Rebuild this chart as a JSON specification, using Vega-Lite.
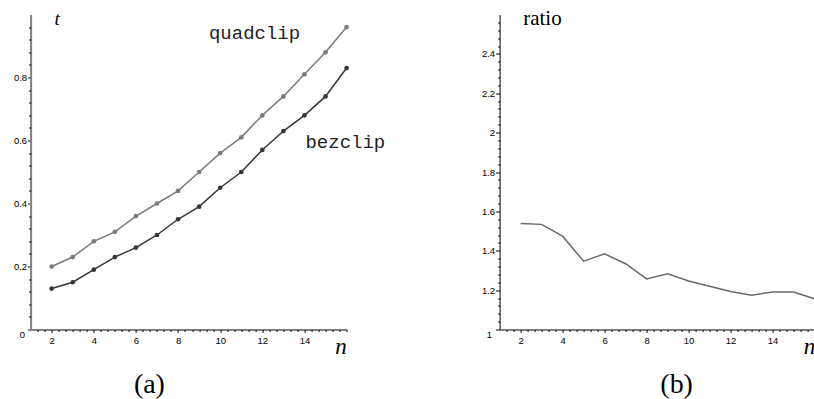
{
  "$schema": "https://vega.github.io/schema/vega-lite/v6.json",
  "autosize": {"type": "pad"},
  "padding": {"left": 12.6, "top": 7.5, "right": 0, "bottom": 0},
  "background": "white",
  "spacing": 153,
  "bounds": "flush",
  "config": {
    "view": {"stroke": null},
    "axis": {"grid": false, "title": null, "labelFont": "Liberation Sans", "labelFontSize": 9.5, "labelColor": "#000", "tickColor": "#000", "domainColor": "#000", "labelFlush": false, "labelOverlap": false}
  },
  "datasets": {
    "times": [
      {"n": 2, "series": "quadclip", "t": 0.20}, {"n": 3, "series": "quadclip", "t": 0.23}, {"n": 4, "series": "quadclip", "t": 0.28}, {"n": 5, "series": "quadclip", "t": 0.31}, {"n": 6, "series": "quadclip", "t": 0.36}, {"n": 7, "series": "quadclip", "t": 0.40}, {"n": 8, "series": "quadclip", "t": 0.44}, {"n": 9, "series": "quadclip", "t": 0.50}, {"n": 10, "series": "quadclip", "t": 0.56}, {"n": 11, "series": "quadclip", "t": 0.61}, {"n": 12, "series": "quadclip", "t": 0.68}, {"n": 13, "series": "quadclip", "t": 0.74}, {"n": 14, "series": "quadclip", "t": 0.81}, {"n": 15, "series": "quadclip", "t": 0.88}, {"n": 16, "series": "quadclip", "t": 0.96},
      {"n": 2, "series": "bezclip", "t": 0.13}, {"n": 3, "series": "bezclip", "t": 0.15}, {"n": 4, "series": "bezclip", "t": 0.19}, {"n": 5, "series": "bezclip", "t": 0.23}, {"n": 6, "series": "bezclip", "t": 0.26}, {"n": 7, "series": "bezclip", "t": 0.30}, {"n": 8, "series": "bezclip", "t": 0.35}, {"n": 9, "series": "bezclip", "t": 0.39}, {"n": 10, "series": "bezclip", "t": 0.45}, {"n": 11, "series": "bezclip", "t": 0.50}, {"n": 12, "series": "bezclip", "t": 0.57}, {"n": 13, "series": "bezclip", "t": 0.63}, {"n": 14, "series": "bezclip", "t": 0.68}, {"n": 15, "series": "bezclip", "t": 0.74}, {"n": 16, "series": "bezclip", "t": 0.83}
    ],
    "ratios": [
      {"n": 2, "ratio": 1.539}, {"n": 3, "ratio": 1.534}, {"n": 4, "ratio": 1.474}, {"n": 5, "ratio": 1.347}, {"n": 6, "ratio": 1.384}, {"n": 7, "ratio": 1.334}, {"n": 8, "ratio": 1.257}, {"n": 9, "ratio": 1.283}, {"n": 10, "ratio": 1.246}, {"n": 11, "ratio": 1.22}, {"n": 12, "ratio": 1.193}, {"n": 13, "ratio": 1.174}, {"n": 14, "ratio": 1.191}, {"n": 15, "ratio": 1.19}, {"n": 16, "ratio": 1.156}
    ]
  },
  "hconcat": [
    {
      "width": 316,
      "height": 315,
      "resolve": {"axis": {"x": "independent", "y": "independent"}},
      "layer": [
        {
          "data": {"name": "times"},
          "mark": {"type": "line", "strokeWidth": 1.5, "point": {"filled": true, "size": 22, "opacity": 1}},
          "encoding": {
            "x": {"field": "n", "type": "quantitative", "scale": {"domain": [1, 16], "nice": false, "zero": false},
                  "axis": {"orient": "bottom", "values": [2, 4, 6, 8, 10, 12, 14], "format": "d", "tickSize": 3, "labelPadding": 3, "domainColor": "#000", "domainWidth": 1}},
            "y": {"field": "t", "type": "quantitative", "scale": {"domain": [0, 1], "nice": false, "zero": false},
                  "axis": {"orient": "left", "values": [0, 0.2, 0.4, 0.6, 0.8], "format": "~g", "tickSize": 3, "labelPadding": {"condition": {"test": "datum.value === 0", "value": 3}, "value": 1}, "labelBaseline": {"condition": {"test": "datum.value === 0", "value": "top"}, "value": "middle"}, "domainColor": "#808080", "domainWidth": 2}},
            "color": {"field": "series", "type": "nominal", "scale": {"domain": ["quadclip", "bezclip"], "range": ["#7a7a7a", "#363636"]}, "legend": null}
          }
        },
        {
          "data": {"values": [{}]},
          "mark": {"type": "text", "font": "Liberation Mono", "fontSize": 19, "align": "center", "baseline": "alphabetic", "color": "#222", "text": "quadclip"},
          "encoding": {
            "x": {"datum": 11.63, "type": "quantitative", "axis": {"orient": "bottom", "values": [1.333, 1.667, 2.333, 2.667, 3, 3.333, 3.667, 4.333, 4.667, 5, 5.333, 5.667, 6.333, 6.667, 7, 7.333, 7.667, 8.333, 8.667, 9, 9.333, 9.667, 10.333, 10.667, 11, 11.333, 11.667, 12.333, 12.667, 13, 13.333, 13.667, 14.333, 14.667, 15, 15.333, 15.667, 16], "labels": false, "domain": false, "tickSize": 2}},
            "y": {"datum": 0.922, "type": "quantitative", "axis": {"orient": "left", "values": [0.04, 0.08, 0.12, 0.16, 0.24, 0.28, 0.32, 0.36, 0.44, 0.48, 0.52, 0.56, 0.64, 0.68, 0.72, 0.76, 0.84, 0.88, 0.92, 0.96], "labels": false, "domain": false, "tickSize": 2}}
          }
        },
        {
          "data": {"values": [{}]},
          "mark": {"type": "text", "font": "Liberation Mono", "fontSize": 19, "align": "center", "baseline": "alphabetic", "color": "#222", "text": "bezclip"},
          "encoding": {"x": {"datum": 15.94, "type": "quantitative", "axis": null}, "y": {"datum": 0.577, "type": "quantitative", "axis": null}}
        },
        {
          "data": {"values": [{}]},
          "mark": {"type": "text", "font": "Liberation Serif", "fontStyle": "italic", "fontSize": 19, "align": "center", "baseline": "alphabetic", "color": "#000", "text": "t"},
          "encoding": {"x": {"datum": 2.26, "type": "quantitative", "axis": null}, "y": {"datum": 0.966, "type": "quantitative", "axis": null}}
        },
        {
          "data": {"values": [{}]},
          "mark": {"type": "text", "font": "Liberation Serif", "fontStyle": "italic", "fontSize": 23, "align": "center", "baseline": "alphabetic", "color": "#000", "text": "n"},
          "encoding": {"x": {"datum": 15.74, "type": "quantitative", "axis": null}, "y": {"datum": -0.078, "type": "quantitative", "axis": null}}
        },
        {
          "data": {"values": [{}]},
          "mark": {"type": "text", "font": "Liberation Serif", "fontSize": 28, "align": "center", "baseline": "alphabetic", "color": "#000", "text": "(a)"},
          "encoding": {"x": {"datum": 6.64, "type": "quantitative", "axis": null}, "y": {"datum": -0.202, "type": "quantitative", "axis": null}}
        }
      ]
    },
    {
      "width": 315,
      "height": 315,
      "resolve": {"axis": {"x": "independent", "y": "independent"}},
      "layer": [
        {
          "data": {"name": "ratios"},
          "mark": {"type": "line", "strokeWidth": 1.5, "color": "#6a6a6a"},
          "encoding": {
            "x": {"field": "n", "type": "quantitative", "scale": {"domain": [1, 16], "nice": false, "zero": false},
                  "axis": {"orient": "bottom", "values": [2, 4, 6, 8, 10, 12, 14], "format": "d", "tickSize": 3, "labelPadding": 3}},
            "y": {"field": "ratio", "type": "quantitative", "scale": {"domain": [1, 2.6], "nice": false, "zero": false},
                  "axis": {"orient": "left", "values": [1, 1.2, 1.4, 1.6, 1.8, 2, 2.2, 2.4], "format": "~g", "tickSize": 4, "labelPadding": {"condition": {"test": "datum.value === 1", "value": 4}, "value": 1}, "labelBaseline": {"condition": {"test": "datum.value === 1", "value": "top"}, "value": "middle"}}}
          }
        },
        {
          "data": {"values": [{}]},
          "mark": {"type": "text", "font": "Liberation Serif", "fontSize": 21, "align": "center", "baseline": "alphabetic", "color": "#000", "text": "ratio"},
          "encoding": {
            "x": {"datum": 3.04, "type": "quantitative", "axis": {"orient": "bottom", "values": [1.333, 1.667, 2.333, 2.667, 3, 3.333, 3.667, 4.333, 4.667, 5, 5.333, 5.667, 6.333, 6.667, 7, 7.333, 7.667, 8.333, 8.667, 9, 9.333, 9.667, 10.333, 10.667, 11, 11.333, 11.667, 12.333, 12.667, 13, 13.333, 13.667, 14.333, 14.667, 15, 15.333, 15.667, 16], "labels": false, "domain": false, "tickSize": 2}},
            "y": {"datum": 2.547, "type": "quantitative", "axis": {"orient": "left", "values": [1.04, 1.08, 1.12, 1.16, 1.24, 1.28, 1.32, 1.36, 1.44, 1.48, 1.52, 1.56, 1.64, 1.68, 1.72, 1.76, 1.84, 1.88, 1.92, 1.96, 2.04, 2.08, 2.12, 2.16, 2.24, 2.28, 2.32, 2.36, 2.44, 2.48, 2.52, 2.56], "labels": false, "domain": false, "tickSize": 2}}
          }
        },
        {
          "data": {"values": [{}]},
          "mark": {"type": "text", "font": "Liberation Serif", "fontStyle": "italic", "fontSize": 23, "align": "center", "baseline": "alphabetic", "color": "#000", "text": "n"},
          "encoding": {"x": {"datum": 15.76, "type": "quantitative", "axis": null}, "y": {"datum": 0.874, "type": "quantitative", "axis": null}}
        },
        {
          "data": {"values": [{}]},
          "mark": {"type": "text", "font": "Liberation Serif", "fontSize": 28, "align": "center", "baseline": "alphabetic", "color": "#000", "text": "(b)"},
          "encoding": {"x": {"datum": 9.43, "type": "quantitative", "axis": null}, "y": {"datum": 0.676, "type": "quantitative", "axis": null}}
        }
      ]
    }
  ]
}
